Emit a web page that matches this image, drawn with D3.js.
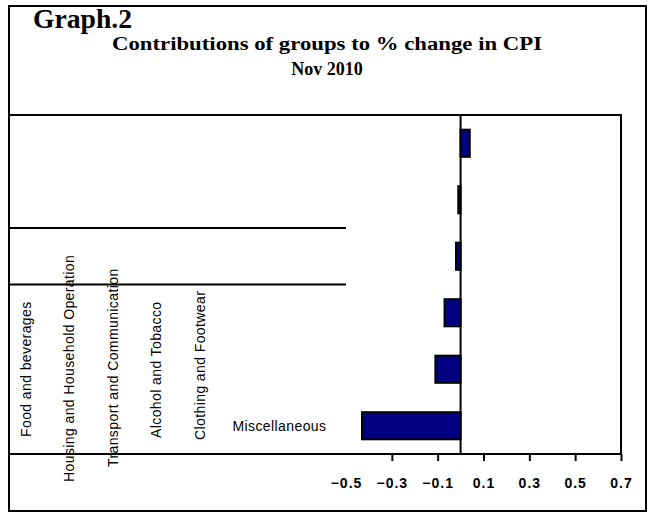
<!DOCTYPE html>
<html>
<head>
<meta charset="utf-8">
<script src="https://cdn.jsdelivr.net/npm/d3@7"></script>
<style>
  body { margin: 0; background: #fff; }
  svg { display: block; }
</style>
</head>
<body>
<svg></svg>
<script>
// data
const categories = [
  'Food and beverages',
  'Housing and Household Operation',
  'Transport and Communication',
  'Alcohol and Tobacco',
  'Clothing and Footwear',
  'Miscellaneous',
];
const values = [0.04, -0.01, -0.02, -0.07, -0.11, -0.43];
const tickValues = [-0.5, -0.3, -0.1, 0.1, 0.3, 0.5, 0.7];

const w = 649; // svg width
const h = 514; // svg height
const plotLeft = 9;
const plotRight = 621;
const plotTop = 115;
const plotBottom = 454;

const svg = d3.select('svg').attr('width', w).attr('height', h);

// outer chart border
svg.append('rect')
  .attr('x', 9).attr('y', 6)
  .attr('width', 637).attr('height', 505)
  .attr('fill', 'none').attr('stroke', '#000').attr('stroke-width', 2);

// titles
svg.append('text')
  .attr('x', 33).attr('y', 28)
  .attr('textLength', 99).attr('lengthAdjust', 'spacingAndGlyphs')
  .style('font', 'bold 27px "Liberation Serif", serif')
  .text('Graph.2');
svg.append('text')
  .attr('x', 112).attr('y', 50)
  .attr('textLength', 430).attr('lengthAdjust', 'spacingAndGlyphs')
  .style('font', 'bold 18px "Liberation Serif", serif')
  .text('Contributions of groups to % change in CPI');
svg.append('text')
  .attr('x', 327).attr('y', 75)
  .attr('text-anchor', 'middle')
  .style('font', 'bold 18px "Liberation Serif", serif')
  .text('Nov 2010');

// scales
const xScale = d3.scaleLinear().domain([-0.5, 0.7]).range([346, plotRight]);
const yScale = d3.scaleBand()
  .domain(categories)
  .range([plotTop, plotBottom])
  .paddingInner(0.52)
  .paddingOuter(0.26);

// plot frame: top, right and the two short grid lines
const line = (x1, y1, x2, y2) => svg.append('line')
  .attr('x1', x1).attr('y1', y1).attr('x2', x2).attr('y2', y2)
  .attr('stroke', '#000').attr('stroke-width', 2);

line(plotLeft, plotTop, plotRight + 1, plotTop);
line(plotRight, plotTop, plotRight, plotBottom);
const gap = yScale.step() * yScale.paddingInner() / 2;
[2, 3].forEach((i) => {
  const y = yScale(categories[i]) - gap;
  line(plotLeft, y, xScale(-0.5), y);
});

// bars
svg.selectAll('rect.bar')
  .data(values)
  .enter()
  .append('rect')
  .attr('class', 'bar')
  .attr('x', (d) => xScale(Math.min(0, d)))
  .attr('y', (d, i) => yScale(categories[i]))
  .attr('width', (d) => Math.abs(xScale(d) - xScale(0)))
  .attr('height', yScale.bandwidth())
  .attr('fill', '#000080')
  .attr('stroke', '#000')
  .attr('stroke-width', 2);

// zero line
line(xScale(0), plotTop, xScale(0), plotBottom);

// x axis
const xAxis = d3.axisBottom(xScale)
  .tickValues(tickValues)
  .tickSize(7)
  .tickPadding(17)
  .tickFormat(d3.format('.1f'));
const gx = svg.append('g')
  .attr('transform', 'translate(0,' + plotBottom + ')')
  .call(xAxis);
gx.select('.domain').remove();
gx.selectAll('.tick line').attr('stroke-width', 2)
  .filter((d) => d === -0.5).remove();
gx.selectAll('.tick text')
  .style('font', 'bold 14px "Liberation Sans", Arial, sans-serif')
  .style('letter-spacing', '1px')
  .attr('fill', '#000');
line(plotLeft, plotBottom, plotRight + 1, plotBottom);

// category labels, scattered along the left the way the original shows them
const labelScale = d3.scaleBand().domain(categories).range([plotLeft, plotLeft + 6 * 43.5]);
const labelStart = [437, 482, 467, 438, 440];
const labelFont = '14px "Liberation Sans", Arial, sans-serif';
categories.slice(0, 5).forEach((c, i) => {
  const x = labelScale(c) + labelScale.bandwidth() / 2;
  svg.append('text')
    .attr('transform', 'translate(' + x + ',' + labelStart[i] + ') rotate(-90)')
    .style('font', labelFont)
    .style('letter-spacing', '0.4px')
    .text(c);
});
svg.append('text')
  .attr('x', labelScale(categories[5]) + 6).attr('y', 431)
  .style('font', labelFont)
  .style('letter-spacing', '0.4px')
  .text(categories[5]);
</script>
</body>
</html>
